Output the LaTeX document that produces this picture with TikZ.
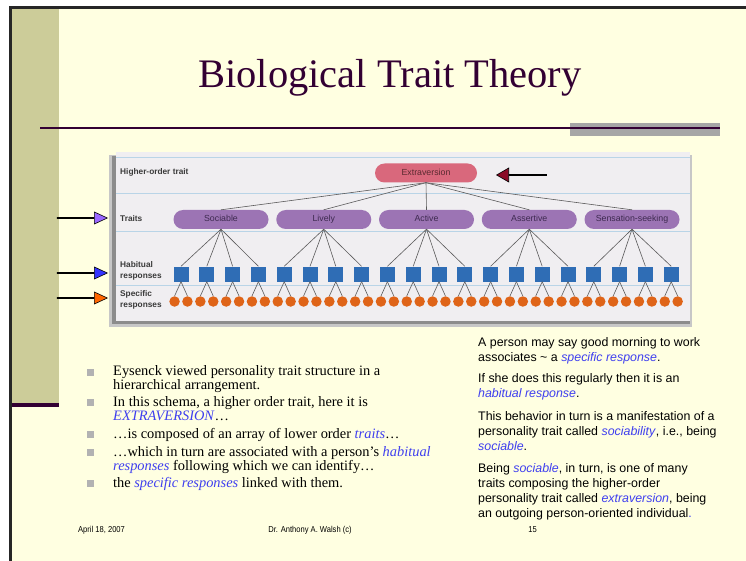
\documentclass[tikz,border=0pt]{standalone}
\usepackage{fontspec}
\setmainfont{Liberation Serif}
\setsansfont{Liberation Sans}
\usetikzlibrary{positioning,shapes.arrows}

\definecolor{slidebg}{HTML}{FFFFE1}
\definecolor{bandolive}{HTML}{CCCC99}
\definecolor{titlepurple}{HTML}{330033}
\definecolor{bargray}{HTML}{A6A6A6}
\definecolor{bulletgray}{HTML}{B2B2B2}
\definecolor{hlblue}{HTML}{3F3FEF}
\definecolor{chartbg}{HTML}{F0EEF1}
\definecolor{rulecyan}{HTML}{B9D4E7}
\definecolor{traitpurple}{HTML}{9C74B4}
\definecolor{traittext}{HTML}{3E2A50}
\definecolor{toppink}{HTML}{D9687C}
\definecolor{toptext}{HTML}{5A2A30}
\definecolor{habitblue}{HTML}{2F6DB5}
\definecolor{specorange}{HTML}{DF6418}
\definecolor{linkgray}{HTML}{5A5A5A}
\definecolor{labelgray}{HTML}{3A3A3A}
\definecolor{arrowred}{HTML}{8B0A26}
\definecolor{arrowlav}{HTML}{9966FF}
\definecolor{arrowblue}{HTML}{3333FF}
\definecolor{arroworange}{HTML}{FF6600}

\newcommand{\hlt}[1]{\textcolor{hlblue}{\textit{#1}}}
\newcommand{\narrowtext}[1]{\scalebox{0.88}[1]{#1}}

\tikzset{
  pill/.style={rounded corners=9.5pt, minimum height=19pt, inner sep=0pt, text height=6.4pt, text depth=1.8pt, font=\sffamily\fontsize{8.8}{10}\selectfont},
  traitpill/.style={pill, fill=traitpurple, minimum width=95pt, text=traittext},
  toppill/.style={pill, fill=toppink, minimum width=102pt, text=toptext},
  habitbox/.style={fill=habitblue, minimum size=15pt, inner sep=0pt},
  specdot/.style={circle, fill=specorange, minimum size=10.5pt, inner sep=0pt},
  link/.style={draw=linkgray, line width=0.6pt},
  rowlabel/.style={anchor=west, inner sep=0pt, align=left, font=\sffamily\bfseries\fontsize{8.3}{10}\selectfont, text=labelgray},
  pointer/.style={single arrow, draw=black, line width=0.6pt, minimum height=50pt, minimum width=12pt, single arrow head extend=3pt, single arrow tip angle=50, inner sep=0pt, anchor=tip},
  bulletbox/.style={fill=bulletgray, minimum size=7pt, inner sep=0pt},
  bullettext/.style={anchor=base west, inner sep=0pt, align=left, font=\fontsize{14.4}{13.6}\selectfont},
  notetext/.style={anchor=base west, inner sep=0pt, align=left, font=\sffamily\fontsize{12.4}{15}\selectfont},
  foottext/.style={inner sep=0pt, font=\sffamily\fontsize{8.6}{10}\selectfont}
}

\begin{document}
\begin{tikzpicture}[x=1pt,y=-1pt]
\useasboundingbox (0,0) rectangle (746,561);
\fill[white] (0,0) rectangle (746,561);
\fill[slidebg] (10,8) rectangle (746,561);
\fill[bandolive] (12,9) rectangle (59,403);
\draw[titlepurple, line width=3.5pt] (12,405) -- (59,405);
\draw[black!85, line width=3pt] (10.5,561) -- (10.5,7.5) -- (746,7.5);

\node[font=\fontsize{40.5}{44}\selectfont, text=titlepurple, anchor=base] (title) at (390,88) {Biological Trait Theory};
\fill[bargray] (570,123) rectangle (720,136);
\draw[titlepurple, line width=1.6pt] (40,128) -- (720,128);

% chart
\fill[black!22] (109,155) rectangle (692,327);
\fill[black!45] (112,156) rectangle (690,324);
\fill[chartbg] (116,152) rectangle (690,321);
\foreach \y in {157,193,231,285}
	\draw[rulecyan, line width=0.8pt] (116,\y) -- (690,\y);

\node[rowlabel] (lhigher) at (120,172) {Higher-order trait};
\node[rowlabel] (ltraits) at (120,219) {Traits};
\node[rowlabel, font=\sffamily\bfseries\fontsize{8.3}{11.5}\selectfont] (lhabit) at (120,271) {Habitual\\responses};
\node[rowlabel, font=\sffamily\bfseries\fontsize{8.3}{11}\selectfont] (lspec) at (120,300) {Specific\\responses};

\node[toppill] (extra) at (426,173) {Extraversion};
\foreach \name [count=\i] in {Sociable,Lively,Active,Assertive,Sensation-seeking}
	\node[traitpill] (t\i) at ({221+102.75*(\i-1)},219.5) {\name};
\foreach \j in {1,...,20}
	\node[habitbox] (h\j) at ({181+25.8*(\j-1)},274) {};
\foreach \j in {1,...,20} {
	\pgfmathtruncatemacro\ka{2*\j-1}
	\pgfmathtruncatemacro\kb{2*\j}
	\node[specdot] (s\ka) at ({181+25.8*(\j-1)-6.45},301.5) {};
	\node[specdot] (s\kb) at ({181+25.8*(\j-1)+6.45},301.5) {};
}

\foreach \i in {1,...,5}
	\draw[link] (extra.south) -- (t\i.north);
\foreach \i in {1,...,5}
	\foreach \k in {0,...,3} {
		\pgfmathtruncatemacro\j{4*\i-3+\k}
		\draw[link] (t\i.south) -- (h\j.north);
	}
\foreach \j in {1,...,20} {
	\pgfmathtruncatemacro\ka{2*\j-1}
	\pgfmathtruncatemacro\kb{2*\j}
	\draw[link] (h\j.south) -- (s\ka.north);
	\draw[link] (h\j.south) -- (s\kb.north);
}

\node[pointer, fill=arrowred, shape border rotate=180, minimum width=14pt, single arrow head extend=4pt, single arrow tip angle=60] (pred) at (496,175) {};
\node[pointer, fill=arrowlav] (plav) at (108,218) {};
\node[pointer, fill=arrowblue] (pblue) at (108,273) {};
\node[pointer, fill=arroworange] (porange) at (108,298) {};

% bullets
\foreach \y [count=\i] in {372.5,402.5,434.5,452.5,483.5}
	\node[bulletbox] (b\i) at (90.5,\y) {};
\node[bullettext] (item1) at (113,389.5) {Eysenck viewed personality trait structure in a\\hierarchical arrangement.};
\node[bullettext] (item2) at (113,420) {In this schema, a higher order trait, here it is\\\hlt{EXTRAVERSION}\ldots};
\node[bullettext] (item3) at (113,438) {\ldots{}is composed of an array of lower order \hlt{traits}\ldots};
\node[bullettext] (item4) at (113,470) {\ldots{}which in turn are associated with a person’s \hlt{habitual}\\\hlt{responses} following which we can identify\ldots};
\node[bullettext] (item5) at (113,487.5) {the \hlt{specific responses} linked with them.};

\node[notetext] (note1) at (478,361) {A person may say good morning to work\\associates \textasciitilde{} a \hlt{specific response}.};
\node[notetext] (note2) at (478,397.5) {If she does this regularly then it is an\\\hlt{habitual response}.};
\node[notetext] (note3) at (478,450) {This behavior in turn is a manifestation of a\\personality trait called \hlt{sociability}, i.e., being\\\hlt{sociable}.};
\node[notetext] (note4) at (478,517) {Being \hlt{sociable}, in turn, is one of many\\traits composing the higher-order\\personality trait called \hlt{extraversion}, being\\an outgoing person-oriented individual\textcolor{hlblue}{.}};

\node[foottext, anchor=base west] (fdate) at (78,532) {\narrowtext{April 18, 2007}};
\node[foottext, anchor=base] (fauthor) at (310,532) {\narrowtext{Dr. Anthony A. Walsh (c)}};
\node[foottext, anchor=base east] (fpage) at (537,532) {\narrowtext{15}};
\end{tikzpicture}
\end{document}
